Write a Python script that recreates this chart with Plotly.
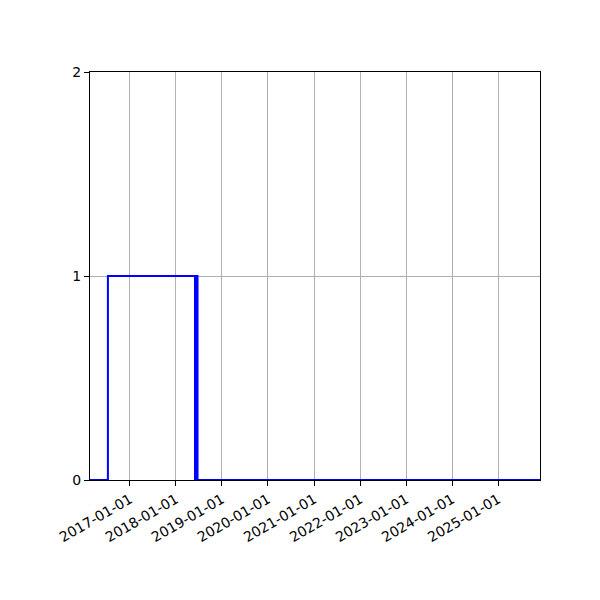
import plotly.graph_objects as go

# step series (state 0/1 over time)
dates = [
    "2016-02-19", "2016-07-10", "2018-06-01", "2018-06-06", "2018-06-11",
    "2018-06-16", "2018-06-21", "2018-06-27", "2025-11-28",
]
values = [0, 1, 0, 1, 0, 1, 0, 0, 0]

x_ticks = ["2017-01-01", "2018-01-01", "2019-01-01", "2020-01-01", "2021-01-01",
           "2022-01-01", "2023-01-01", "2024-01-01", "2025-01-01"]
y_ticks = [0, 1, 2]

fig = go.Figure()

fig.add_trace(go.Scatter(
    x=dates,
    y=values,
    mode='lines',
    line=dict(color='#0000ff', width=2, shape='hv'),
    showlegend=False
))

axis_style = dict(
    showline=True, mirror=True, linecolor='black', linewidth=1,
    ticks='outside', ticklen=5, tickcolor='black', tickwidth=1,
    showgrid=True, gridcolor='#b0b0b0', gridwidth=1, zeroline=False,
)

fig.update_xaxes(
    type='date',
    range=["2016-02-19", "2025-11-28"],
    tickvals=x_ticks,
    ticktext=x_ticks,
    tickangle=-30,
    **axis_style
)
fig.update_yaxes(
    range=[0, 2],
    tickvals=y_ticks,
    **axis_style
)

# page body adds an 8px offset, so margins are shifted to match
fig.update_layout(
    width=600,
    height=600,
    plot_bgcolor='white',
    paper_bgcolor='white',
    font=dict(family='DejaVu Sans', size=14, color='black'),
    margin=dict(l=82, r=68, t=64, b=128),
)

fig.write_html("out.html")
